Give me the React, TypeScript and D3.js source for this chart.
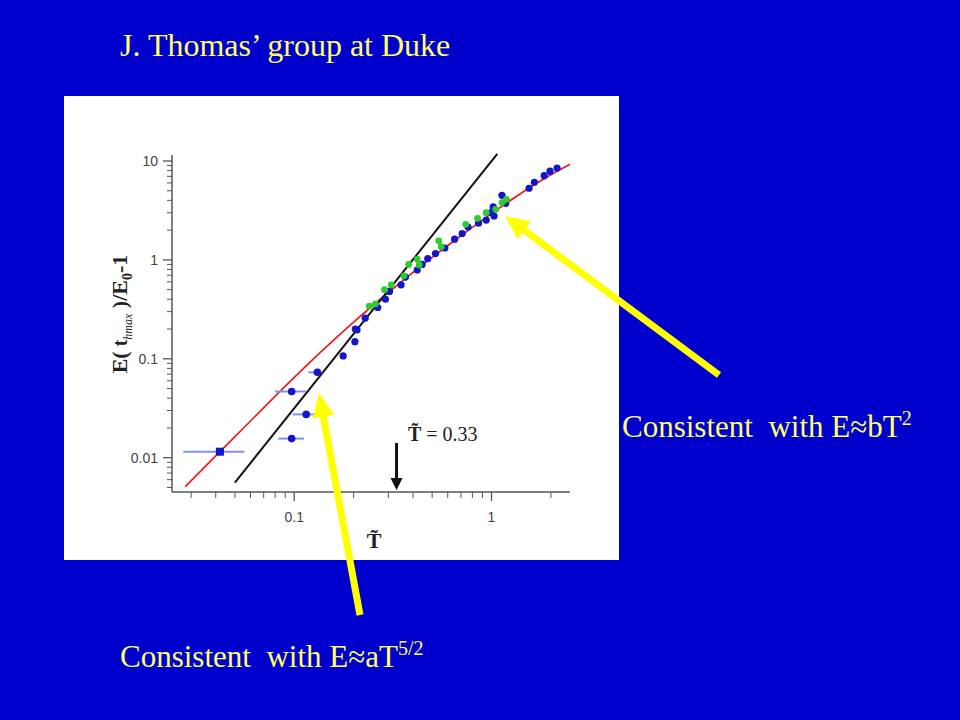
import React from 'react';
import * as d3 from 'd3';

// heating energy vs. reduced temperature
const xDomain = [0.024, 2.5];
const yDomain = [0.0045, 11.5];
const xMajorTicks = [0.1, 1];
const yMajorTicks = [0.01, 0.1, 1, 10];
const xTickLabels = ['0.1', '1'];
const yTickLabels = ['0.01', '0.1', '1', '10'];

// fit E ~ b T^2 (red), bends over at high T
const redFitT = [0.028, 0.05, 0.1, 0.15, 0.2, 0.3, 0.5, 0.7, 1.0, 1.3, 1.7, 2.0, 2.5];
const redFitE = [0.0051, 0.0163, 0.065, 0.14, 0.235, 0.468, 1.06, 1.756, 2.94, 4.22, 5.98, 7.27, 9.29];

// E ~ a T^(5/2) (black)
const blackFitT = [0.05, 1.07];
const blackFitE = [0.0056, 11.8];

// low-T points with horizontal error bars
const errT = [0.042, 0.097, 0.115, 0.097, 0.131];
const errE = [0.0115, 0.0467, 0.0274, 0.0156, 0.073];
const errLo = [0.0274, 0.08, 0.098, 0.083, 0.118];
const errHi = [0.056, 0.115, 0.132, 0.112, 0.138];
const errSquare = [true, false, false, false, false];

const blueT = [0.177, 0.203, 0.208, 0.204, 0.229, 0.265, 0.29, 0.304, 0.348, 0.366, 0.42, 0.445, 0.475, 0.52, 0.58, 0.65, 0.71, 0.76, 0.86, 0.94, 0.997, 1.03, 1.02, 1.13, 1.18, 1.55, 1.65, 1.85, 1.98, 2.15];
const blueE = [0.107, 0.149, 0.196, 0.2, 0.258, 0.33, 0.4, 0.48, 0.56, 0.67, 0.79, 0.9, 1.03, 1.16, 1.32, 1.62, 1.85, 2.15, 2.35, 2.53, 3.0, 2.78, 3.43, 4.5, 3.73, 5.3, 6.1, 7.1, 7.9, 8.5];

const greenT = [0.24, 0.258, 0.287, 0.31, 0.36, 0.38, 0.42, 0.43, 0.54, 0.556, 0.74, 0.85, 0.94, 1.05, 1.13, 1.19];
const greenE = [0.34, 0.36, 0.5, 0.56, 0.69, 0.9, 1.02, 0.89, 1.56, 1.36, 2.29, 2.63, 3.0, 3.25, 3.8, 4.1];

const markerT = 0.33;

const serif = '"Liberation Serif", "Times New Roman", serif';
const sans = '"Liberation Sans", Arial, sans-serif';
const bg = '#0000cc';
const textYellow = '#ffff66';
const arrowYellow = '#ffff00';

// thick block arrow polygon from tail to tip
function arrowPath(x1: number, y1: number, x2: number, y2: number, w = 7, hl = 24, hw = 22) {
  const dx = x2 - x1, dy = y2 - y1;
  const len = Math.hypot(dx, dy);
  const ux = dx / len, uy = dy / len;
  const px = -uy, py = ux;
  const bx = x2 - ux * hl, by = y2 - uy * hl;
  const pts = [
    [x1 + px * w / 2, y1 + py * w / 2],
    [bx + px * w / 2, by + py * w / 2],
    [bx + px * hw / 2, by + py * hw / 2],
    [x2, y2],
    [bx - px * hw / 2, by - py * hw / 2],
    [bx - px * w / 2, by - py * w / 2],
    [x1 - px * w / 2, y1 - py * w / 2],
  ];
  return 'M' + pts.map(p => p.join(',')).join('L') + 'Z';
}

export default function App() {
  const x = d3.scaleLog().domain(xDomain).range([172, 570]);
  const y = d3.scaleLog().domain(yDomain).range([492, 155]);

  const xMinor: number[] = [];
  [0.01, 0.1, 1].forEach(d => {
    for (let k = 2; k <= 9; k++) {
      const v = d * k;
      if (v >= xDomain[0] && v <= xDomain[1]) xMinor.push(v);
    }
  });
  const yMinor: number[] = [];
  [0.001, 0.01, 0.1, 1].forEach(d => {
    for (let k = 2; k <= 9; k++) {
      const v = d * k;
      if (v >= yDomain[0] && v <= yDomain[1]) yMinor.push(v);
    }
  });

  const line = d3.line<number>()
    .x((_, i) => x(redFitT[i]))
    .y(d => y(d))
    .curve(d3.curveMonotoneX);
  const blackLine = d3.line<number>()
    .x((_, i) => x(blackFitT[i]))
    .y(d => y(d));

  const axisColor = '#555';
  const x0 = x.range()[0];
  const yBase = y.range()[0];

  return (
    <svg width={960} height={720} style={{ position: 'absolute', left: 0, top: 0, display: 'block' }}>
      <rect width={960} height={720} fill={bg} />
      <text x={120} y={56} fontFamily={serif} fontSize={32} fill={textYellow}>
        J. Thomas’ group at Duke
      </text>

      {/* figure panel */}
      <rect x={64} y={96} width={555} height={464} fill="#fff" />

      {/* axes */}
      <line x1={x0} x2={x0} y1={y.range()[1]} y2={yBase} stroke={axisColor} strokeWidth={1.5} />
      <line x1={x0} x2={x.range()[1]} y1={yBase} y2={yBase} stroke={axisColor} strokeWidth={1.5} />
      {yMajorTicks.map((t, i) => (
        <g key={'ym' + i}>
          <line x1={x0 - 9} x2={x0} y1={y(t)} y2={y(t)} stroke={axisColor} strokeWidth={1.3} />
          <text x={x0 - 14} y={y(t)} dy="0.35em" textAnchor="end" fontFamily={sans} fontSize={14} fill="#444">
            {yTickLabels[i]}
          </text>
        </g>
      ))}
      {yMinor.map((t, i) => (
        <line key={'yn' + i} x1={x0 - 5} x2={x0} y1={y(t)} y2={y(t)} stroke={axisColor} strokeWidth={1} />
      ))}
      {xMajorTicks.map((t, i) => (
        <g key={'xm' + i}>
          <line x1={x(t)} x2={x(t)} y1={yBase} y2={yBase + 9} stroke={axisColor} strokeWidth={1.3} />
          <text x={x(t)} y={yBase + 30} textAnchor="middle" fontFamily={sans} fontSize={14} fill="#444">
            {xTickLabels[i]}
          </text>
        </g>
      ))}
      {xMinor.map((t, i) => (
        <line key={'xn' + i} x1={x(t)} x2={x(t)} y1={yBase} y2={yBase + 6} stroke={axisColor} strokeWidth={1} />
      ))}

      {/* axis titles */}
      <text x={374} y={548} textAnchor="middle" fontFamily={serif} fontSize={22} fontWeight="bold" fill="#222">
        {'T\u0303'}
      </text>
      <text transform="translate(127,314) rotate(-90)" textAnchor="middle" fontFamily={serif} fontSize={22} fontWeight="bold" fill="#222">
        E(
        <tspan fontSize={20}> t</tspan>
        <tspan fontSize={12} fontWeight="normal" fontStyle="italic" dy={5}>hmax</tspan>
        <tspan dy={-5}> )/E</tspan>
        <tspan fontSize={14} dy={5}>0</tspan>
        <tspan dy={-5}>-1</tspan>
      </text>

      {/* fits */}
      <path d={line(redFitE) || ''} fill="none" stroke="#ee1b1b" strokeWidth={1.7} />
      <path d={blackLine(blackFitE) || ''} fill="none" stroke="#111" strokeWidth={2} />

      {/* error bar points */}
      {errT.map((t, i) => (
        <line key={'eb' + i} x1={x(errLo[i])} x2={x(errHi[i])} y1={y(errE[i])} y2={y(errE[i])} stroke="#7f8ff0" strokeWidth={2} />
      ))}
      {errT.map((t, i) => errSquare[i]
        ? <rect key={'ep' + i} x={x(t) - 4} y={y(errE[i]) - 4} width={8} height={8} fill="#1414c8" />
        : <circle key={'ep' + i} cx={x(t)} cy={y(errE[i])} r={3.8} fill="#1414c8" />
      )}

      {/* data */}
      {blueT.map((t, i) => (
        <circle key={'b' + i} cx={x(t)} cy={y(blueE[i])} r={3.6} fill="#1414c8" />
      ))}
      {greenT.map((t, i) => (
        <circle key={'g' + i} cx={x(t)} cy={y(greenE[i])} r={3.4} fill="#2ecc2e" />
      ))}

      {/* T = 0.33 marker */}
      <line x1={x(markerT)} x2={x(markerT)} y1={443} y2={480} stroke="#111" strokeWidth={3} />
      <path d={`M${x(markerT) - 6},478L${x(markerT) + 6},478L${x(markerT)},490Z`} fill="#111" />
      <text x={408} y={441} fontFamily={serif} fontSize={20} fill="#222" style={{ whiteSpace: 'pre' }}>
        <tspan fontWeight="bold">{'T\u0303'}</tspan>
        {' = 0.33'}
      </text>

      {/* annotations */}
      <path d={arrowPath(719, 375, 505, 216)} fill={arrowYellow} />
      <path d={arrowPath(360, 615, 319, 393)} fill={arrowYellow} />
      <text x={622} y={437} fontFamily={serif} fontSize={31} fill={textYellow} style={{ whiteSpace: 'pre' }}>
        {'Consistent  with E≈bT'}
        <tspan fontSize={20} dy={-12}>2</tspan>
      </text>
      <text x={120} y={667} fontFamily={serif} fontSize={31} fill={textYellow} style={{ whiteSpace: 'pre' }}>
        {'Consistent  with E≈aT'}
        <tspan fontSize={20} dy={-12}>5/2</tspan>
      </text>
    </svg>
  );
}
